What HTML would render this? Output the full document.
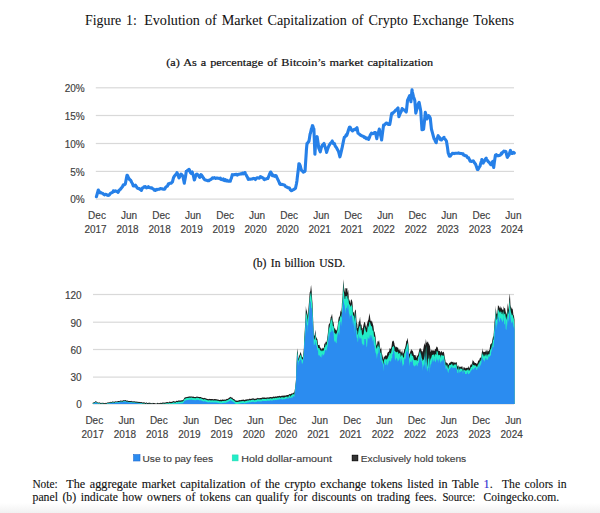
<!DOCTYPE html>
<html><head><meta charset="utf-8"><title>Figure 1</title>
<style>html,body{margin:0;padding:0;background:#fff;width:600px;height:513px;overflow:hidden}svg{display:block}</style>
</head><body>
<svg width="600" height="513" viewBox="0 0 600 513">
<defs><linearGradient id="bot" x1="0" y1="0" x2="0" y2="1"><stop offset="0" stop-color="#ffffff"/><stop offset="1" stop-color="#f1f1f1"/></linearGradient></defs>
<rect x="0" y="0" width="600" height="513" fill="#fff"/>
<rect x="0" y="503" width="600" height="10" fill="url(#bot)"/>
<text x="85" y="24.7" font-family="Liberation Serif" fill="#111" stroke="#111" stroke-width="0.05" word-spacing="1.5" font-size="14.0" textLength="51.9" lengthAdjust="spacingAndGlyphs">Figure 1:</text>
<text x="144.2" y="24.7" font-family="Liberation Serif" fill="#111" stroke="#111" stroke-width="0.05" word-spacing="1.5" font-size="14.0" textLength="369.7" lengthAdjust="spacingAndGlyphs">Evolution of Market Capitalization of Crypto Exchange Tokens</text>
<text x="166.3" y="65.8" font-family="Liberation Serif" fill="#111" stroke="#111" stroke-width="0.2" word-spacing="0.9" font-size="11.4" textLength="266.9" lengthAdjust="spacingAndGlyphs">(a) As a percentage of Bitcoin’s market capitalization</text>
<text x="253" y="267" font-family="Liberation Serif" fill="#111" stroke="#111" stroke-width="0.2" word-spacing="1.5" font-size="11.6" textLength="92.2" lengthAdjust="spacingAndGlyphs">(b) In billion USD.</text>
<rect x="95.8" y="87.20" width="418.2" height="1.2" fill="#D9D9D9"/>
<text x="84.7" y="92.1" font-family="Liberation Sans" fill="#404040" stroke="#404040" stroke-width="0.15" font-size="10" text-anchor="end">20%</text>
<rect x="95.8" y="114.90" width="418.2" height="1.2" fill="#D9D9D9"/>
<text x="84.7" y="119.8" font-family="Liberation Sans" fill="#404040" stroke="#404040" stroke-width="0.15" font-size="10" text-anchor="end">15%</text>
<rect x="95.8" y="142.90" width="418.2" height="1.2" fill="#D9D9D9"/>
<text x="84.7" y="147.8" font-family="Liberation Sans" fill="#404040" stroke="#404040" stroke-width="0.15" font-size="10" text-anchor="end">10%</text>
<rect x="95.8" y="170.80" width="418.2" height="1.2" fill="#D9D9D9"/>
<text x="84.7" y="175.7" font-family="Liberation Sans" fill="#404040" stroke="#404040" stroke-width="0.15" font-size="10" text-anchor="end">5%</text>
<rect x="95.8" y="198.50" width="418.2" height="1.2" fill="#D9D9D9"/>
<text x="84.7" y="203.4" font-family="Liberation Sans" fill="#404040" stroke="#404040" stroke-width="0.15" font-size="10" text-anchor="end">0%</text>
<text x="97.0" y="218.5" font-family="Liberation Sans" fill="#404040" stroke="#404040" stroke-width="0.15" font-size="10" text-anchor="middle">Dec</text>
<text x="95.5" y="232.5" font-family="Liberation Sans" fill="#404040" stroke="#404040" stroke-width="0.15" font-size="10" text-anchor="middle">2017</text>
<text x="129.0" y="218.5" font-family="Liberation Sans" fill="#404040" stroke="#404040" stroke-width="0.15" font-size="10" text-anchor="middle">Jun</text>
<text x="127.5" y="232.5" font-family="Liberation Sans" fill="#404040" stroke="#404040" stroke-width="0.15" font-size="10" text-anchor="middle">2018</text>
<text x="161.1" y="218.5" font-family="Liberation Sans" fill="#404040" stroke="#404040" stroke-width="0.15" font-size="10" text-anchor="middle">Dec</text>
<text x="159.6" y="232.5" font-family="Liberation Sans" fill="#404040" stroke="#404040" stroke-width="0.15" font-size="10" text-anchor="middle">2018</text>
<text x="193.1" y="218.5" font-family="Liberation Sans" fill="#404040" stroke="#404040" stroke-width="0.15" font-size="10" text-anchor="middle">Jun</text>
<text x="191.6" y="232.5" font-family="Liberation Sans" fill="#404040" stroke="#404040" stroke-width="0.15" font-size="10" text-anchor="middle">2019</text>
<text x="225.1" y="218.5" font-family="Liberation Sans" fill="#404040" stroke="#404040" stroke-width="0.15" font-size="10" text-anchor="middle">Dec</text>
<text x="223.6" y="232.5" font-family="Liberation Sans" fill="#404040" stroke="#404040" stroke-width="0.15" font-size="10" text-anchor="middle">2019</text>
<text x="257.1" y="218.5" font-family="Liberation Sans" fill="#404040" stroke="#404040" stroke-width="0.15" font-size="10" text-anchor="middle">Jun</text>
<text x="255.7" y="232.5" font-family="Liberation Sans" fill="#404040" stroke="#404040" stroke-width="0.15" font-size="10" text-anchor="middle">2020</text>
<text x="289.2" y="218.5" font-family="Liberation Sans" fill="#404040" stroke="#404040" stroke-width="0.15" font-size="10" text-anchor="middle">Dec</text>
<text x="287.7" y="232.5" font-family="Liberation Sans" fill="#404040" stroke="#404040" stroke-width="0.15" font-size="10" text-anchor="middle">2020</text>
<text x="321.2" y="218.5" font-family="Liberation Sans" fill="#404040" stroke="#404040" stroke-width="0.15" font-size="10" text-anchor="middle">Jun</text>
<text x="319.7" y="232.5" font-family="Liberation Sans" fill="#404040" stroke="#404040" stroke-width="0.15" font-size="10" text-anchor="middle">2021</text>
<text x="353.2" y="218.5" font-family="Liberation Sans" fill="#404040" stroke="#404040" stroke-width="0.15" font-size="10" text-anchor="middle">Dec</text>
<text x="351.7" y="232.5" font-family="Liberation Sans" fill="#404040" stroke="#404040" stroke-width="0.15" font-size="10" text-anchor="middle">2021</text>
<text x="385.3" y="218.5" font-family="Liberation Sans" fill="#404040" stroke="#404040" stroke-width="0.15" font-size="10" text-anchor="middle">Jun</text>
<text x="383.8" y="232.5" font-family="Liberation Sans" fill="#404040" stroke="#404040" stroke-width="0.15" font-size="10" text-anchor="middle">2022</text>
<text x="417.3" y="218.5" font-family="Liberation Sans" fill="#404040" stroke="#404040" stroke-width="0.15" font-size="10" text-anchor="middle">Dec</text>
<text x="415.8" y="232.5" font-family="Liberation Sans" fill="#404040" stroke="#404040" stroke-width="0.15" font-size="10" text-anchor="middle">2022</text>
<text x="449.3" y="218.5" font-family="Liberation Sans" fill="#404040" stroke="#404040" stroke-width="0.15" font-size="10" text-anchor="middle">Jun</text>
<text x="447.8" y="232.5" font-family="Liberation Sans" fill="#404040" stroke="#404040" stroke-width="0.15" font-size="10" text-anchor="middle">2023</text>
<text x="481.4" y="218.5" font-family="Liberation Sans" fill="#404040" stroke="#404040" stroke-width="0.15" font-size="10" text-anchor="middle">Dec</text>
<text x="479.9" y="232.5" font-family="Liberation Sans" fill="#404040" stroke="#404040" stroke-width="0.15" font-size="10" text-anchor="middle">2023</text>
<text x="513.4" y="218.5" font-family="Liberation Sans" fill="#404040" stroke="#404040" stroke-width="0.15" font-size="10" text-anchor="middle">Jun</text>
<text x="511.9" y="232.5" font-family="Liberation Sans" fill="#404040" stroke="#404040" stroke-width="0.15" font-size="10" text-anchor="middle">2024</text>
<polyline points="96.4,196.7 97.4,193.2 98.3,190 98.4,190.3 99.4,191.6 100,192.7 100.4,192.5 101.4,193 102.4,193.2 103.3,194 103.4,194.1 104.4,194.9 105.4,194.3 106.4,194.5 107.4,195.2 108.4,195.4 108.7,195.3 109.4,194.7 110.4,193.4 111.4,192.9 112.4,192.4 113.3,191.3 113.4,190.7 114.4,191.4 115.4,190.9 116.4,191.4 117.4,191.4 118,192.4 118.4,191.8 119.4,190 120.4,189.3 121.3,188 121.4,188 122.4,186.8 123.4,184.8 124.4,184.7 125.3,184 125.4,183.5 126.4,178.4 127,175.3 127.4,175.3 128.4,177.5 129.3,179.3 129.4,179 130.4,180 131.3,181.3 131.4,182 132.4,183.5 133.3,186 133.4,186 134.4,186 135.3,185.3 135.4,185.2 136.4,186.7 137.3,188 137.4,188.1 138.4,188.6 139.4,188.5 140.4,189.6 141.3,190 141.4,190.5 142.4,188 143.4,187.8 144,186.7 144.4,186.8 145.4,186.6 146.4,187.9 147.4,187.5 148.4,186.7 148.7,187.3 149.4,187.5 150.4,187.9 151.4,187.8 152,188 152.4,188.6 153.4,189 154.4,190.1 154.7,190 155.4,190.5 156.4,189.4 157.4,189.7 158.4,189.2 159.3,189.3 159.4,189.3 160.4,188.6 161.4,188.8 162.4,188.9 163.4,189.3 164.4,189.3 165,188.7 165.4,187.6 166.4,186.7 167.4,186.2 168.4,183.8 169,184 169.4,183.5 170.4,183.1 171.4,183.1 172.3,182 172.4,182 173.4,178.2 173.7,177.3 174.4,176.2 175.4,174.8 176.4,174.2 177,172.7 177.4,173.6 178.4,176.3 179,178 179.4,177.4 180.4,175.1 181,174 181.4,174.5 182.4,175.4 183,176.7 183.4,178.7 184.3,183.3 184.4,182.5 185.4,177.2 186.3,171.3 186.4,171.5 187.4,170.5 188.4,170 189,169.3 189.4,169.9 190.4,172.6 191,173.3 191.4,172.9 192.3,172 192.4,172.7 193.4,175.8 194.3,180 194.4,179.9 195.4,176.8 196.4,174.4 197,174 197.4,174.4 198.4,175.3 199.4,177 199.7,177.3 200.4,176.9 201,174.7 201.4,174.9 202.4,176.3 203.4,178 204.4,179.4 205,180 205.4,180 206.4,180.2 207.4,180.7 208.4,180.8 209,180.7 209.4,180 210.4,179.7 211.4,179.1 212.4,177.9 213,178 213.4,178.1 214.4,177.6 215.4,178.4 216.4,178.1 217,178 217.4,178.2 218.4,178.2 219.4,178.7 220.4,178.2 221,179.3 221.4,178.9 222.4,179.8 223.4,179 224.4,180.6 225,180.4 225.4,179.7 226.4,181 227.4,180.4 228.4,181.3 229.4,181.2 230.3,181.3 230.4,180.3 231.4,178.2 232.3,174.7 232.4,175.3 233.4,174.7 234.4,174.6 235.4,174.6 236.4,174.3 237,174.7 237.4,175.1 238.4,174.2 239.4,174.3 240.4,173.8 241.4,173.8 241.7,174 242.4,173.1 243.4,173.8 244.4,172.7 245,172.5 245.4,173.8 246.4,175.4 247.4,177.2 248.3,179.4 248.4,179.2 249.4,179.1 250.4,179.2 251.4,179 252.4,178.9 253.4,178.4 254.4,178.6 254.8,178.9 255.4,179.5 256.4,178.1 257.4,177.7 258.4,178 259.4,178.2 260.4,176.6 261.3,177 261.4,177 262.4,177.7 263.4,178.1 264,179.4 264.4,179.6 265.4,179.1 266.4,178.9 267.4,178.3 267.8,178.5 268.4,177.3 269.4,174.5 270.4,172.4 270.6,172 271.4,173.1 272.4,175.7 273.4,175.2 274.4,176.3 275.4,175.5 276.1,175.7 276.4,176.5 277.4,178.6 278.4,180.7 279.4,182.9 279.8,184 280.4,184.4 281.4,184.2 282.4,184.5 283.4,184.8 284.4,185 285.4,186.3 286.4,186.8 287.4,187.4 288.1,187.8 288.4,187.8 289.4,188.1 290.4,189.9 291.4,190.7 291.9,190.6 292.4,190.2 293.4,189.7 294.4,189.1 295.4,188.3 295.6,187.8 296.4,184 297,180.4 297.4,176.7 298.4,168.8 298.9,163.7 299.4,163.9 300.2,165.6 300.4,166.7 301.4,170.1 301.5,170.2 302.4,171.2 303.2,171.4 303.4,172.2 304.4,171.7 305.1,170.8 305.4,165.5 306.3,151.8 306.4,149.9 307,143.5 307.4,143.5 308.4,141.6 308.9,141.6 309.4,138.4 310.1,134 310.4,133.4 311.4,128.9 311.6,129 312.4,125.7 312.7,125.8 313.4,127.8 313.9,129 314.4,141.7 314.9,154.3 315.4,146.5 315.8,140.4 316.4,138.7 317.1,136.6 317.4,138.4 318.4,145.2 318.7,148 319.4,149.6 320.3,151.8 320.4,151 321.4,147.4 322.2,145.4 322.4,145.4 323.4,144.1 324,143.5 324.4,145.1 325.4,147.8 326.4,151.4 326.6,152.4 327.4,149.7 328.4,147 329.1,145.4 329.4,145.1 330.4,143.3 331.4,142.4 332.3,141 332.4,141.3 333.4,143.6 334.4,143.6 334.8,144.8 335.4,146.3 336.4,147.6 337.4,149.4 338,150.5 338.4,151.2 339.4,154.9 339.9,156.8 340.4,155.1 341.4,150.8 341.8,149.2 342.4,146.4 343.4,141.4 344.3,137.2 344.4,137.6 345.4,136.4 346.4,134.6 346.8,135.3 347.4,133.5 348.4,130.3 349.4,127.2 350,127.1 350.4,127.5 351.4,129.8 352.4,130.8 352.5,130.9 353.4,129.8 354.4,129.3 355.4,129.7 355.7,129 356.4,128.4 357,127.7 357.4,129.9 358,133.2 358.4,133.4 359.4,134.2 360.4,135.2 361.1,135.3 361.4,135.7 362.4,136.2 363.4,136.2 364.4,137.5 364.5,137.3 365.4,137.4 366.4,138.7 367.4,138.1 368.4,139.1 368.6,139.3 369.4,137.6 370.4,134.8 371.4,133.2 372.4,133.8 373.4,133.5 374.4,132.5 375.4,132.9 375.5,132.5 376.4,137 376.8,138.7 377.4,135.2 378.4,132.7 379.3,129.1 379.4,129.5 380.4,134.4 381.4,138.6 381.6,140 382.4,133.9 383.4,126.4 383.6,125 384.4,125 385.4,123.9 386.4,123 387.4,123.4 388.4,124.5 389.4,123.9 389.8,124.3 390.4,120.9 391.4,114.8 391.8,113.4 392.4,113.6 393.4,112.5 394.4,111.7 395.4,110.7 395.9,110 396.4,109.6 397.4,108.7 398,108 398.4,111.8 398.9,116.8 399.4,115.4 400.4,113 401.4,111.1 402.1,108.6 402.4,109.1 403.4,109.7 404.4,110.2 405.4,111.1 406.2,112 406.4,111 407.4,101.6 407.5,100.5 408.4,98.5 409.4,96 409.6,95.7 410.4,99 410.9,101.8 411.4,96.3 412,89.8 412.4,92.1 413.4,96.4 414.4,99.2 414.8,100.5 415.4,108 415.8,113.2 416.4,110.8 417.4,107 417.5,106.6 418.4,103.5 419.1,102.4 419.4,103.9 420.4,109.1 420.8,111.6 421.4,121.1 422,129.8 422.4,129.3 423.4,129.4 423.6,129 424.4,121.9 425.3,112.4 425.4,112.7 426.4,116.7 426.9,119 427.4,118.1 428.4,116.1 428.6,115.7 429.4,116.4 430.3,118.2 430.4,119.3 431.4,128.9 431.6,129.8 432.4,132.6 433.4,136.3 434.1,138.9 434.4,139 435.4,141.4 436.2,142.7 436.4,141.4 437.4,137.9 438.2,135.6 438.4,136.5 439.4,137.2 440.4,139.8 440.7,139.8 441.4,140 442.4,138.6 443.4,138 444,137.3 444.4,138.8 445.4,139.5 446.4,141 446.5,141.4 447.4,146.9 448.2,153 448.4,153.4 449.4,156.1 449.8,156.3 450.4,156.1 451.4,154.3 452.3,153.8 452.4,153.4 453.4,153.4 454.4,153.6 455.4,153.3 456.4,153.3 457.4,153.2 458.1,153 458.4,152.9 459.4,153.2 460.4,153.5 461.4,153.5 462.4,153.9 463.1,153.8 463.4,154.9 464.4,155.2 465.4,155.8 466.4,155.8 467.4,157.6 468.1,158 468.4,157.6 469.4,159.4 470,160.9 470.4,161.3 471.4,161.4 472.4,161.1 473.1,161.3 473.4,160.9 474.4,162.7 475.3,163.9 475.4,163.8 476.4,166.6 477.4,169.5 477.9,169.6 478.4,168.9 479.4,166.9 480.1,166.1 480.4,164.4 481.4,161.1 481.8,159.6 482.4,161 483.2,163.1 483.4,162.3 484.4,161.2 485.4,159 486.2,158.2 486.4,159 487.4,160.5 488.4,161.9 488.9,162.2 489.4,162.6 490.4,164.2 491.1,164.8 491.4,164.1 492.4,161.9 492.8,161.3 493.4,165.3 493.7,167.5 494.4,161.9 495.4,155.2 496.4,154.7 497.4,155.8 498.4,155.5 498.9,155.6 499.4,155.4 500.4,155.1 501.4,153.2 501.6,153.9 502.4,152.6 503.4,151.8 503.8,151.2 504.4,151.5 505.4,151.4 506,151.7 506.4,153.9 507.3,157.4 507.4,157.4 508.4,155.4 509,155.2 509.4,153.4 510.4,150.4 511.4,153.1 511.7,153.4 512.4,153.5 513.4,152.3 514.3,153" fill="none" stroke="#2680E8" stroke-width="3.1" stroke-linejoin="round" stroke-linecap="round"/>
<rect x="93" y="293.90" width="421" height="1.2" fill="#D9D9D9"/>
<text x="81.7" y="298.8" font-family="Liberation Sans" fill="#404040" stroke="#404040" stroke-width="0.15" font-size="10" text-anchor="end">120</text>
<rect x="93" y="321.60" width="421" height="1.2" fill="#D9D9D9"/>
<text x="81.7" y="326.5" font-family="Liberation Sans" fill="#404040" stroke="#404040" stroke-width="0.15" font-size="10" text-anchor="end">90</text>
<rect x="93" y="348.90" width="421" height="1.2" fill="#D9D9D9"/>
<text x="81.7" y="353.8" font-family="Liberation Sans" fill="#404040" stroke="#404040" stroke-width="0.15" font-size="10" text-anchor="end">60</text>
<rect x="93" y="376.50" width="421" height="1.2" fill="#D9D9D9"/>
<text x="81.7" y="381.4" font-family="Liberation Sans" fill="#404040" stroke="#404040" stroke-width="0.15" font-size="10" text-anchor="end">30</text>
<rect x="93" y="403.40" width="421" height="1.2" fill="#D9D9D9"/>
<text x="81.7" y="408.3" font-family="Liberation Sans" fill="#404040" stroke="#404040" stroke-width="0.15" font-size="10" text-anchor="end">0</text>
<text x="94.3" y="423.6" font-family="Liberation Sans" fill="#404040" stroke="#404040" stroke-width="0.15" font-size="10" text-anchor="middle">Dec</text>
<text x="92.7" y="437.5" font-family="Liberation Sans" fill="#404040" stroke="#404040" stroke-width="0.15" font-size="10" text-anchor="middle">2017</text>
<text x="126.5" y="423.6" font-family="Liberation Sans" fill="#404040" stroke="#404040" stroke-width="0.15" font-size="10" text-anchor="middle">Jun</text>
<text x="124.9" y="437.5" font-family="Liberation Sans" fill="#404040" stroke="#404040" stroke-width="0.15" font-size="10" text-anchor="middle">2018</text>
<text x="158.8" y="423.6" font-family="Liberation Sans" fill="#404040" stroke="#404040" stroke-width="0.15" font-size="10" text-anchor="middle">Dec</text>
<text x="157.2" y="437.5" font-family="Liberation Sans" fill="#404040" stroke="#404040" stroke-width="0.15" font-size="10" text-anchor="middle">2018</text>
<text x="191.0" y="423.6" font-family="Liberation Sans" fill="#404040" stroke="#404040" stroke-width="0.15" font-size="10" text-anchor="middle">Jun</text>
<text x="189.4" y="437.5" font-family="Liberation Sans" fill="#404040" stroke="#404040" stroke-width="0.15" font-size="10" text-anchor="middle">2019</text>
<text x="223.2" y="423.6" font-family="Liberation Sans" fill="#404040" stroke="#404040" stroke-width="0.15" font-size="10" text-anchor="middle">Dec</text>
<text x="221.6" y="437.5" font-family="Liberation Sans" fill="#404040" stroke="#404040" stroke-width="0.15" font-size="10" text-anchor="middle">2019</text>
<text x="255.4" y="423.6" font-family="Liberation Sans" fill="#404040" stroke="#404040" stroke-width="0.15" font-size="10" text-anchor="middle">Jun</text>
<text x="253.8" y="437.5" font-family="Liberation Sans" fill="#404040" stroke="#404040" stroke-width="0.15" font-size="10" text-anchor="middle">2020</text>
<text x="287.7" y="423.6" font-family="Liberation Sans" fill="#404040" stroke="#404040" stroke-width="0.15" font-size="10" text-anchor="middle">Dec</text>
<text x="286.1" y="437.5" font-family="Liberation Sans" fill="#404040" stroke="#404040" stroke-width="0.15" font-size="10" text-anchor="middle">2020</text>
<text x="319.9" y="423.6" font-family="Liberation Sans" fill="#404040" stroke="#404040" stroke-width="0.15" font-size="10" text-anchor="middle">Jun</text>
<text x="318.3" y="437.5" font-family="Liberation Sans" fill="#404040" stroke="#404040" stroke-width="0.15" font-size="10" text-anchor="middle">2021</text>
<text x="352.1" y="423.6" font-family="Liberation Sans" fill="#404040" stroke="#404040" stroke-width="0.15" font-size="10" text-anchor="middle">Dec</text>
<text x="350.5" y="437.5" font-family="Liberation Sans" fill="#404040" stroke="#404040" stroke-width="0.15" font-size="10" text-anchor="middle">2021</text>
<text x="384.4" y="423.6" font-family="Liberation Sans" fill="#404040" stroke="#404040" stroke-width="0.15" font-size="10" text-anchor="middle">Jun</text>
<text x="382.8" y="437.5" font-family="Liberation Sans" fill="#404040" stroke="#404040" stroke-width="0.15" font-size="10" text-anchor="middle">2022</text>
<text x="416.6" y="423.6" font-family="Liberation Sans" fill="#404040" stroke="#404040" stroke-width="0.15" font-size="10" text-anchor="middle">Dec</text>
<text x="415.0" y="437.5" font-family="Liberation Sans" fill="#404040" stroke="#404040" stroke-width="0.15" font-size="10" text-anchor="middle">2022</text>
<text x="448.8" y="423.6" font-family="Liberation Sans" fill="#404040" stroke="#404040" stroke-width="0.15" font-size="10" text-anchor="middle">Jun</text>
<text x="447.2" y="437.5" font-family="Liberation Sans" fill="#404040" stroke="#404040" stroke-width="0.15" font-size="10" text-anchor="middle">2023</text>
<text x="481.1" y="423.6" font-family="Liberation Sans" fill="#404040" stroke="#404040" stroke-width="0.15" font-size="10" text-anchor="middle">Dec</text>
<text x="479.5" y="437.5" font-family="Liberation Sans" fill="#404040" stroke="#404040" stroke-width="0.15" font-size="10" text-anchor="middle">2023</text>
<text x="513.3" y="423.6" font-family="Liberation Sans" fill="#404040" stroke="#404040" stroke-width="0.15" font-size="10" text-anchor="middle">Jun</text>
<text x="511.7" y="437.5" font-family="Liberation Sans" fill="#404040" stroke="#404040" stroke-width="0.15" font-size="10" text-anchor="middle">2024</text>
<polygon points="92.7,404 92.7,402.8 93.4,402.4 94.1,402.3 94.8,401.9 95.5,401.2 95.5,401.1 96.2,401.5 96.9,401.8 97.6,402.4 98,402.5 98.3,402.5 99,402.8 99.7,402.2 100.4,403.1 101.1,402.7 101.8,402.9 102.5,402.8 103.2,402.8 103.9,403 104.6,403.2 105,403 105.3,402.9 106,402.8 106.7,402.9 107.4,402.4 108.1,402.2 108.8,402.5 109.5,402.2 110.2,401.7 110.9,401.9 111.6,401.9 112.3,401.6 113,401.4 113.7,401.7 114.4,401.8 115,401.5 115.1,401.4 115.8,401.2 116.5,401.4 117.2,401.4 117.9,401 118.6,401.1 119.3,401.2 120,400.8 120.7,400.5 121.4,400.7 122.1,400.6 122.8,400.7 123.5,400 123.8,400.3 124.2,400.2 124.9,400.2 125.6,400.1 126.3,400.6 127,400.8 127.7,400.5 128.4,401.1 129.1,401.1 129.8,401.1 130.5,401.1 131.2,401.3 131.9,400.8 132.6,401.4 133.3,401.5 134,401 134.7,401.6 135,401.5 135.4,401.5 136.1,401.8 136.8,401.6 137.5,401.7 138.2,401.9 138.9,401.7 139.6,402.1 140.3,402 141,402.2 141.7,402 142.4,402.5 143.1,402.5 143.8,402.3 144.5,402.6 145,402.5 145.2,402.8 145.9,403 146.6,402.2 147.3,402.9 148,402.9 148.7,402.8 149.4,402.6 150.1,403.2 150.8,402.7 151.5,403.2 152.2,403.4 152.9,402.8 153.6,403.1 154.3,402.9 154.7,403.3 155,403.3 155.7,403.6 156.4,403.7 157.1,402.7 157.8,402.9 158.5,403.2 159.2,403.3 159.9,403 160.6,402.7 161.3,402.9 162,402.7 162.7,402.6 163.4,402.4 164.1,402.7 164.8,402.6 165,402.5 165.5,402.4 166.2,402.3 166.9,401.9 167.6,402 168.3,402.4 169,401.9 169.7,401.5 170.4,402.1 171.1,401.8 171.8,402.1 172.5,401.5 173.2,401.3 173.9,401 174.6,401.6 175.3,401.8 176,400.9 176.7,400.8 177.4,401 178,400.8 178.1,400.6 178.8,400.6 179.5,400.5 180.2,400.5 180.9,400.6 181.6,400.2 182.3,400.3 183,400 183,399.9 183.7,399.2 184.4,397.7 185,397.5 185.1,397.1 185.8,397.4 186.5,396.9 187.2,396.9 187.9,396.7 188.6,396.7 189,396.2 189.3,396.5 190,396.6 190.7,396.4 191.4,396.4 192.1,396.5 192.8,396.7 193.5,396.6 194,397 194.2,396.9 194.9,396.9 195.6,397 196.3,396.8 197,396.4 197.7,396.8 198.4,396.9 199,396.8 199.1,397.1 199.8,397.1 200.5,396.9 201.2,397.1 201.9,397.9 202.6,397.7 203.3,398.1 204,398.3 204.7,397.7 205,398 205.4,398.2 206.1,398.4 206.8,398.7 207.5,398.9 208.2,399 208.9,399.2 209,399.2 209.6,398.8 210.3,399.1 211,398.9 211.7,399.1 212.4,399 213.1,399.2 213.8,399.2 214.5,399.1 215,399 215.2,399.1 215.9,399.2 216.6,399.2 217.3,399.4 218,399.5 218.7,399.8 219.4,399.9 220,400 220.1,400.1 220.8,399.6 221.5,400.1 222.2,399.6 222.9,399.6 223.6,399.7 224.3,399.5 225,399.7 225.7,399.4 226,399.5 226.4,399 227.1,398.7 227.8,398.9 228.5,398.3 229.2,397.6 229.9,397.6 230.6,396.8 231,397 231.3,397.7 232,397.3 232.7,398.3 233.4,398.9 234.1,398.9 234.8,399.8 235.5,400.5 236,400.6 236.2,400.7 236.9,400.6 237.6,400.7 238.3,400.4 239,400.3 239.7,400.1 240.4,400.3 241.1,399.8 241.8,400.1 242.5,399.7 243.2,399.5 243.9,399.8 244.6,400 245.3,399.8 246,399.3 246.7,399.6 247.4,399.2 248.1,399.2 248.8,399.2 249.5,398.5 250,399 250.2,399 250.9,398.7 251.6,398.7 252.3,398.4 253,398.3 253.7,398.4 254.4,398.8 255.1,398.9 255.8,398.4 256.5,398.6 257.2,398.2 257.9,397.7 258.6,398.2 259.3,398.2 260,397.9 260.7,398 261.4,398 262.1,397.6 262.8,397.4 263.5,397.6 264.2,397.5 264.9,397.4 265.6,397.7 266.3,397.8 267,397.2 267.7,397.4 268.4,397.4 269.1,397.3 269.8,397.3 270,397 270.5,396.9 271.2,397.1 271.9,397.3 272.6,396.9 273.3,396.5 274,396.8 274.7,396.8 275.4,396.6 276.1,396.2 276.8,396.7 277.5,395.9 278.2,396.3 278.9,396.1 279.6,395.7 280,396 280.3,396.3 281,396 281.7,395.7 282.4,395.8 283.1,395.6 283.8,395.7 284.5,395.4 285.2,395.4 285.9,395.5 286.6,394.9 286.8,395.3 287.3,395 288,395 288.7,394.7 289.4,394 290.1,394.2 290.8,394 290.9,393.9 291.5,393.6 292.2,393.2 292.9,393.4 293.6,392.5 294.3,392.5 294.3,392.8 295,388.4 295.3,386.4 295.7,382.4 296.1,378.2 296.4,367.2 297,352.3 297.1,352.3 297.7,348.2 297.8,351.9 298.4,358.6 298.5,358.9 299.2,355.8 299.9,354.2 300.5,351.6 300.6,352.2 301.3,354.1 302,357.3 302.7,357.2 302.8,357 303.4,352.9 303.9,348 304.1,340.2 304.8,329.9 305.5,317.9 305.9,306 306.2,308.9 306.9,311.2 307.6,315 307.6,318.2 308.3,310.3 309,302 309.7,292.6 310.4,291 310.8,287 311.1,285 311.8,292.3 312.2,300 312.5,303.2 313.2,320.8 313.9,338 313.9,335.2 314.6,335.8 315.3,330 315.3,329.3 316,336.6 316.7,338.2 317.4,339.2 318.1,344.7 318.2,345 318.8,344.9 319.5,344.8 320.2,348.4 320.9,347 321.5,350 321.6,349.3 322.3,347.5 323,349.3 323.1,347.7 323.7,348.4 324.4,343.6 325.1,343.8 325.8,341.5 326.4,342 326.5,342.5 327.2,338.5 327.9,333 328.6,325.2 329.3,323 329.3,324.2 330,322.4 330.7,317.2 331.4,316.3 331.8,314.5 332.1,314.1 332.8,320.9 333.5,322.2 334.2,327 334.2,329.1 334.9,327.8 335.6,330 336.3,329.4 336.6,331 337,330 337.7,325.8 338.4,319.5 339.1,316.3 339.4,317 339.8,316 340.5,310.2 341.2,312.6 341.8,307 341.9,303.6 342.6,295.7 343.3,279.2 343.5,281.5 344,287.3 344.7,291.2 345.2,292.7 345.4,288.3 346.1,288 346.8,288.7 347.3,288 347.5,293.1 348.2,289.8 348.9,299.3 349.3,301.6 349.6,298.7 350.3,303.8 351,299.4 351.4,299.6 351.7,299.8 352.4,302 353.1,312 353.8,312.8 354.1,310.5 354.5,316 355.2,309.4 355.5,309.8 355.9,310.5 356.6,322.3 357.3,324.2 357.5,328.2 358,328 358.7,322.2 359.4,320.9 360.1,316.4 360.2,318.7 360.8,324.8 361.5,324.6 362.2,330.7 362.3,328.2 362.9,328 363.6,324.4 364.3,322.1 364.3,322.1 365,322.3 365.7,325.9 366.4,328.2 366.4,326.8 367.1,323.7 367.8,321.1 368.5,319.5 369.1,315.2 369.2,313.1 369.9,316 370.6,321.1 371.3,320.5 371.8,322.1 372,320.9 372.7,323.6 373.4,326.1 374.1,331.5 374.7,331.7 374.8,332.8 375.5,336.5 376.2,343.4 376.4,344.6 376.9,345.7 377.6,341.1 378.3,341.8 378.8,341.1 379,339.8 379.7,344.3 380.4,349.6 381.1,348.1 381.1,346.5 381.8,353.2 382.5,355.4 382.9,357.5 383.2,359.8 383.9,356.7 384.6,356.7 385.3,355 386,356.2 386.4,355.1 386.7,356.1 387.4,352.9 388.1,352.1 388.8,351.8 389.3,350.4 389.5,348.2 390.2,348.4 390.9,349.1 391.6,346 392.2,341.1 392.3,341.8 393,340.6 393.7,341.1 394.4,343.4 394.6,345.2 395.1,346 395.8,347.5 396.5,346.6 397.2,348 397.5,347.5 397.9,347 398.6,349.5 399.3,350.7 400,348.4 400.4,350.4 400.7,352.3 401.4,352.5 402.1,350.1 402.8,353.7 403.5,353 404,351 404.2,349.6 404.9,348.4 405.6,345.7 406.3,341 407,340.6 407.5,338.1 407.7,338.2 408.4,344.4 409.1,352.8 409.2,354 409.8,353.6 410.5,350.9 411.2,349.7 411.6,348.7 411.9,351 412.6,350.4 413.3,352.5 414,355.6 414.5,355.1 414.7,355.1 415.4,355.1 416.1,357.5 416.8,357.5 416.8,355.3 417.5,356 418.2,354.5 418.9,351.5 419.6,348.3 420.3,349.4 420.4,348.1 421,348.5 421.7,351.2 422.4,351.1 422.7,352.8 423.1,350.3 423.8,346.3 424.5,343 424.5,343.1 425.2,345.8 425.9,338.8 426.2,341.2 426.6,343 427.3,342.3 428,341.3 428.5,344 428.7,343.1 429.4,346 429.6,343.5 430.1,347.4 430.6,352 430.8,351.7 431.5,350.1 432,349.5 432.2,350.2 432.9,350.7 433.6,350.3 434.3,350.9 434.4,351 435,349.3 435.7,349 436.4,347.1 436.5,346.5 437.1,346.7 437.8,347.7 438,349 438.5,351 439.2,350.7 439.9,351.3 440.5,352 440.6,352.9 441.3,350.8 442,351.8 442.7,352.7 443.4,351.6 444,352.5 444.1,353.1 444.8,357.2 445.5,361 445.5,362.5 446.2,362.3 446.9,363.1 447,363 447.6,363.2 448.3,365.2 449,363.4 449.7,362.8 450.4,362.4 451.1,361.5 451.8,362.1 452,361.5 452.5,362.2 453.2,361.8 453.9,362.9 454.6,362.2 455.3,363 456,362 456.5,362.5 456.7,362.1 457.4,366.5 458,366 458.1,367.4 458.8,365.1 459.5,367.2 460.2,366.4 460.9,367.3 461,367 461.6,366.5 462.3,366.2 463,369.6 463.7,367 464.4,367.4 465,367.8 465.1,367.8 465.8,368.4 466.5,367.7 467.2,368 467.9,367.5 468,368.5 468.6,365.8 469.3,368.6 470,366.6 470.7,364.3 471,365 471.4,364.4 472.1,363.3 472.8,359.5 473,360.5 473.5,360.9 474.2,362 474.9,363 475.6,363 476.3,363 476.5,364 477,364.1 477.7,362.6 478.4,360.1 479,361 479.1,360.5 479.8,358.3 480.5,357.8 481,357 481.2,358 481.9,351.9 482.5,350.5 482.6,348.1 483.3,352.2 484,351.8 484.7,351.9 485.4,351.7 486.1,349.8 486.8,351.5 487,353 487.5,350.1 488.2,351.4 488.9,350.5 489.5,350 489.6,349.1 490.3,344.5 491,344 491,342.8 491.7,343.9 492.4,339.6 493.1,336.6 493.5,336.5 493.8,332.8 494.5,322 495,317.7 495.2,317 495.8,305.5 495.9,308.5 496.6,314.4 497,313 497.3,314.1 498,304.6 498.1,306.6 498.7,305.2 499.4,307.2 499.9,308.4 500.1,305.8 500.8,308.5 501.5,307.1 501.6,307.8 502.2,310.3 502.9,308.8 503.4,310.7 503.6,306 504.3,308.6 505,307.7 505.1,308.4 505.7,311.8 506.4,314.7 506.9,312.5 507.1,311.4 507.8,303 508.5,310.2 508.7,307.8 509.2,299 509.8,293.8 509.9,294.1 510.6,307.2 510.6,305 511.3,309.1 512,306.8 512.2,309.6 512.7,308.5 513.4,315 513.9,315.4 514.1,319.5 514.5,316 514.5,404" fill="#1C1C1C"/>
<polygon points="92.7,404 92.7,403.6 93.4,403.2 94.1,403.1 94.8,402.7 95.5,402 95.5,401.9 96.2,402.3 96.9,402.6 97.6,403.3 98,403.3 98.3,403.3 99,403.6 99.7,403 100.4,403.9 101.1,403.5 101.8,403.8 102.5,403.6 103.2,403.6 103.9,403.9 104.6,404 105,403.9 105.3,403.8 106,403.7 106.7,403.8 107.4,403.3 108.1,403 108.8,403.4 109.5,403 110.2,402.6 110.9,402.8 111.6,402.8 112.3,402.5 113,402.3 113.7,402.6 114.4,402.7 115,402.4 115.1,402.3 115.8,402.1 116.5,402.3 117.2,402.3 117.9,401.9 118.6,402.1 119.3,402.1 120,401.7 120.7,401.4 121.4,401.6 122.1,401.5 122.8,401.7 123.5,401 123.8,401.2 124.2,401.1 124.9,401.2 125.6,401 126.3,401.6 127,401.7 127.7,401.5 128.4,402.1 129.1,402 129.8,402.1 130.5,402.1 131.2,402.3 131.9,401.8 132.6,402.4 133.3,402.5 134,401.9 134.7,402.5 135,402.5 135.4,402.5 136.1,402.8 136.8,402.6 137.5,402.8 138.2,402.9 138.9,402.7 139.6,403.1 140.3,403 141,403.2 141.7,403.1 142.4,403.5 143.1,403.5 143.8,403.4 144.5,403.6 145,403.5 145.2,403.9 145.9,404 146.6,403.3 147.3,404 148,403.9 148.7,403.8 149.4,403.7 150.1,404 150.8,403.7 151.5,404 152.2,404 152.9,403.8 153.6,404 154.3,404 154.7,404 155,404 155.7,404 156.4,404 157.1,403.8 157.8,404 158.5,404 159.2,404 159.9,404 160.6,403.8 161.3,404 162,403.8 162.7,403.7 163.4,403.6 164.1,403.8 164.8,403.7 165,403.6 165.5,403.5 166.2,403.4 166.9,403.1 167.6,403.2 168.3,403.5 169,403.1 169.7,402.7 170.4,403.3 171.1,403 171.8,403.3 172.5,402.7 173.2,402.5 173.9,402.1 174.6,402.8 175.3,403 176,402 176.7,402 177.4,402.2 178,402 178.1,401.8 178.8,401.8 179.5,401.7 180.2,401.7 180.9,401.8 181.6,401.4 182.3,401.5 183,401.2 183,401.1 183.7,400.4 184.4,398.9 185,398.7 185.1,398.3 185.8,398.7 186.5,398.1 187.2,398.1 187.9,397.9 188.6,397.9 189,397.4 189.3,397.7 190,397.8 190.7,397.7 191.4,397.6 192.1,397.7 192.8,397.9 193.5,397.9 194,398.2 194.2,398.1 194.9,398.2 195.6,398.2 196.3,398.1 197,397.6 197.7,398.1 198.4,398.1 199,398.1 199.1,398.3 199.8,398.4 200.5,398.2 201.2,398.3 201.9,399.1 202.6,399 203.3,399.4 204,399.6 204.7,399 205,399.3 205.4,399.5 206.1,399.7 206.8,400 207.5,400.2 208.2,400.3 208.9,400.5 209,400.5 209.6,400.1 210.3,400.4 211,400.2 211.7,400.4 212.4,400.3 213.1,400.5 213.8,400.5 214.5,400.4 215,400.3 215.2,400.4 215.9,400.5 216.6,400.5 217.3,400.7 218,400.8 218.7,401.1 219.4,401.2 220,401.3 220.1,401.4 220.8,400.9 221.5,401.4 222.2,400.9 222.9,400.9 223.6,401 224.3,400.8 225,401 225.7,400.7 226,400.8 226.4,400.4 227.1,400.1 227.8,400.3 228.5,399.6 229.2,398.9 229.9,398.9 230.6,398.1 231,398.3 231.3,399 232,398.7 232.7,399.7 233.4,400.2 234.1,400.2 234.8,401.2 235.5,401.8 236,402 236.2,402 236.9,401.9 237.6,402 238.3,401.7 239,401.7 239.7,401.5 240.4,401.6 241.1,401.1 241.8,401.5 242.5,401.1 243.2,400.9 243.9,401.2 244.6,401.4 245.3,401.2 246,400.7 246.7,400.9 247.4,400.6 248.1,400.6 248.8,400.5 249.5,399.9 250,400.4 250.2,400.4 250.9,400 251.6,400.1 252.3,399.8 253,399.7 253.7,399.8 254.4,400.2 255.1,400.3 255.8,399.8 256.5,400 257.2,399.6 257.9,399.1 258.6,399.6 259.3,399.6 260,399.3 260.7,399.4 261.4,399.4 262.1,399 262.8,398.8 263.5,399 264.2,399 264.9,398.9 265.6,399.1 266.3,399.2 267,398.6 267.7,398.8 268.4,398.8 269.1,398.7 269.8,398.7 270,398.4 270.5,398.3 271.2,398.5 271.9,398.8 272.6,398.4 273.3,398 274,398.2 274.7,398.3 275.4,398 276.1,397.7 276.8,398.2 277.5,397.4 278.2,397.8 278.9,397.6 279.6,397.2 280,397.5 280.3,397.9 281,397.4 281.7,397.2 282.4,397.3 283.1,397.5 283.8,397.4 284.5,397.4 285.2,397 285.9,396.7 286.6,396.9 286.8,396.2 287.3,396.6 288,397.8 288.7,396.1 289.4,395 290.1,396.3 290.8,396.6 290.9,395.1 291.5,395.5 292.2,394.7 292.9,394 293.6,394.3 294.3,394.7 294.3,394.3 295,390.3 295.3,387.8 295.7,383.9 296.1,379.5 296.4,369.5 297,354.7 297.1,355.1 297.7,350.8 297.8,355.7 298.4,360.2 298.5,361.2 299.2,358.3 299.9,356.4 300.5,354.5 300.6,354.8 301.3,356.2 302,359.5 302.7,359.2 302.8,359.4 303.4,354.6 303.9,350.7 304.1,343.7 304.8,333.1 305.5,322.5 305.9,311.2 306.2,313.3 306.9,315.4 307.6,319.3 307.6,323.4 308.3,314.7 309,308.1 309.7,297.9 310.4,294.8 310.8,292.8 311.1,291.8 311.8,300 312.2,304.3 312.5,309.5 313.2,324.5 313.9,340.9 313.9,338.1 314.6,340.1 315.3,332.8 315.3,332.6 316,340 316.7,339.8 317.4,344 318.1,347.3 318.2,348.2 318.8,348.1 319.5,348.2 320.2,350.9 320.9,349.7 321.5,351.7 321.6,350.5 322.3,350.3 323,351.4 323.1,349.9 323.7,351.1 324.4,347.2 325.1,346.7 325.8,343.8 326.4,345 326.5,345.8 327.2,341.3 327.9,336.2 328.6,330 329.3,326.5 329.3,329 330,324.6 330.7,320.3 331.4,320.2 331.8,317.6 332.1,318.7 332.8,325.7 333.5,326.1 334.2,330.1 334.2,333.5 334.9,332.2 335.6,334.5 336.3,332.8 336.6,334.8 337,332.1 337.7,328.6 338.4,322.6 339.1,320.7 339.4,320.9 339.8,319 340.5,315.5 341.2,317.6 341.8,312.5 341.9,309.5 342.6,298.7 343.3,281.2 343.5,290.8 344,293 344.7,298.9 345.2,298.9 345.4,296.2 346.1,296.1 346.8,296.4 347.3,294.1 347.5,299.7 348.2,297 348.9,303 349.3,305 349.6,303.7 350.3,307 351,305.3 351.4,304.2 351.7,305.7 352.4,307.2 353.1,316.4 353.8,315.3 354.1,314.4 354.5,321.9 355.2,311.7 355.5,317.4 355.9,318.5 356.6,330 357.3,331.2 357.5,334.9 358,333.8 358.7,328.7 359.4,326.6 360.1,325.8 360.2,323.3 360.8,330.5 361.5,329.5 362.2,336.8 362.3,334.4 362.9,335 363.6,334 364.3,328 364.3,326.6 365,327.7 365.7,330.7 366.4,333 366.4,331.8 367.1,332 367.8,325.2 368.5,327.4 369.1,323.9 369.2,322.4 369.9,322.1 370.6,324.6 371.3,326.5 371.8,326 372,326.5 372.7,330.8 373.4,330.6 374.1,337.1 374.7,336.7 374.8,335.7 375.5,340.8 376.2,348 376.4,347.3 376.9,349.1 377.6,345 378.3,347.3 378.8,344.6 379,343.4 379.7,348.1 380.4,352.8 381.1,353.6 381.1,349.2 381.8,356.8 382.5,360.2 382.9,360.7 383.2,364.7 383.9,360.8 384.6,359.1 385.3,358.4 386,360.1 386.4,359.4 386.7,358.9 387.4,358.8 388.1,356.9 388.8,355.3 389.3,354.7 389.5,352.6 390.2,353.2 390.9,353.5 391.6,350.5 392.2,347.2 392.3,346.9 393,346.8 393.7,345.7 394.4,348 394.6,350.9 395.1,351.1 395.8,352.1 396.5,352.3 397.2,352.2 397.5,351.6 397.9,351.7 398.6,354.1 399.3,353.2 400,352.9 400.4,353.5 400.7,356.9 401.4,355.5 402.1,354 402.8,356.3 403.5,357.8 404,357.6 404.2,354 404.9,352.6 405.6,349 406.3,347 407,344.5 407.5,342.4 407.7,343.4 408.4,346.6 409.1,356.2 409.2,358.7 409.8,356.7 410.5,353.6 411.2,353.5 411.6,353.8 411.9,355.9 412.6,355.6 413.3,356.9 414,360.3 414.5,359.8 414.7,360.3 415.4,360.2 416.1,359.7 416.8,360.3 416.8,361.2 417.5,360.8 418.2,357.1 418.9,356.1 419.6,350.7 420.3,354.7 420.4,350.6 421,354 421.7,357.9 422.4,359.5 422.7,361.2 423.1,360 423.8,359.4 424.5,356 424.5,350.3 425.2,363.5 425.9,349.3 426.2,345.8 426.6,358.8 427.3,366.9 428,358 428.5,359.3 428.7,354.1 429.4,367.5 429.6,354.3 430.1,361 430.6,357.5 430.8,359.2 431.5,356.8 432,355.1 432.2,355.1 432.9,354.8 433.6,354.5 434.3,354.7 434.4,357.2 435,354.3 435.7,354.2 436.4,355 436.5,351.3 437.1,351.6 437.8,351.4 438,354 438.5,355.5 439.2,354.8 439.9,355.3 440.5,355.7 440.6,357.9 441.3,354.6 442,355.6 442.7,355.6 443.4,355.6 444,356 444.1,355.9 444.8,360.9 445.5,363.9 445.5,365.7 446.2,364.4 446.9,366.7 447,363.6 447.6,367 448.3,368.9 449,365.2 449.7,365.3 450.4,365 451.1,364.6 451.8,363.7 452,363.2 452.5,365.1 453.2,365.9 453.9,364.6 454.6,364.5 455.3,365 456,363.5 456.5,364.8 456.7,366.3 457.4,369.5 458,369.2 458.1,371 458.8,366 459.5,370 460.2,368.6 460.9,368.8 461,368.6 461.6,368.9 462.3,368.7 463,371.8 463.7,368.9 464.4,370.2 465,370.3 465.1,370.5 465.8,370.4 466.5,370.5 467.2,369.7 467.9,369.5 468,371.5 468.6,368.9 469.3,370.8 470,369.8 470.7,367.6 471,366.8 471.4,367.1 472.1,366.6 472.8,363.1 473,365 473.5,365 474.2,365.5 474.9,365.3 475.6,365.5 476.3,366.1 476.5,366.5 477,367.5 477.7,365.2 478.4,363.1 479,365.6 479.1,363.3 479.8,361.4 480.5,361 481,359.1 481.2,360.8 481.9,353.2 482.5,355.3 482.6,352.2 483.3,356.7 484,353.8 484.7,356.6 485.4,355.2 486.1,353.5 486.8,355.8 487,357 487.5,354.6 488.2,354.7 488.9,353.8 489.5,354.5 489.6,352.7 490.3,349.8 491,348.7 491,343.6 491.7,348.8 492.4,343.8 493.1,339.8 493.5,339.7 493.8,335 494.5,326.9 495,321.4 495.2,321.4 495.8,309.1 495.9,312.9 496.6,320.3 497,319 497.3,319 498,307.6 498.1,311.4 498.7,309.4 499.4,311.9 499.9,312.8 500.1,311.1 500.8,312.7 501.5,311.4 501.6,313.7 502.2,314.4 502.9,311.8 503.4,315.9 503.6,310.3 504.3,314.1 505,314.2 505.1,312.7 505.7,317.1 506.4,320 506.9,315.9 507.1,318 507.8,309.8 508.5,314.3 508.7,313.4 509.2,306.1 509.8,299.3 509.9,302.2 510.6,312.5 510.6,308.6 511.3,315.5 512,312.3 512.2,315.5 512.7,314.7 513.4,317.8 513.9,319 514.1,325 514.5,319.4 514.5,404" fill="#22EDC8"/>
<polygon points="92.7,404 92.7,404 93.4,403.7 94.1,403.6 94.8,403.2 95.5,402.5 95.5,402.4 96.2,402.8 96.9,403.1 97.6,403.8 98,403.8 98.3,403.8 99,404 99.7,403.5 100.4,404 101.1,404 101.8,404 102.5,404 103.2,404 103.9,404 104.6,404 105,404 105.3,404 106,404 106.7,404 107.4,403.8 108.1,403.5 108.8,403.9 109.5,403.5 110.2,403.1 110.9,403.3 111.6,403.3 112.3,403 113,402.8 113.7,403.1 114.4,403.2 115,402.9 115.1,402.8 115.8,402.6 116.5,402.8 117.2,402.8 117.9,402.4 118.6,402.6 119.3,402.6 120,402.2 120.7,401.9 121.4,402.1 122.1,402 122.8,402.2 123.5,401.5 123.8,401.7 124.2,401.6 124.9,401.7 125.6,401.5 126.3,402.1 127,402.2 127.7,402 128.4,402.6 129.1,402.5 129.8,402.6 130.5,402.6 131.2,402.8 131.9,402.3 132.6,402.9 133.3,403 134,402.4 134.7,403 135,403 135.4,403 136.1,403.3 136.8,403.1 137.5,403.3 138.2,403.4 138.9,403.2 139.6,403.6 140.3,403.5 141,403.7 141.7,403.6 142.4,404 143.1,404 143.8,403.9 144.5,404 145,404 145.2,404 145.9,404 146.6,403.8 147.3,404 148,404 148.7,404 149.4,404 150.1,404 150.8,404 151.5,404 152.2,404 152.9,404 153.6,404 154.3,404 154.7,404 155,404 155.7,404 156.4,404 157.1,404 157.8,404 158.5,404 159.2,404 159.9,404 160.6,404 161.3,404 162,404 162.7,404 163.4,404 164.1,404 164.8,404 165,404 165.5,404 166.2,404 166.9,404 167.6,404 168.3,404 169,404 169.7,403.8 170.4,404 171.1,404 171.8,404 172.5,404 173.2,403.8 173.9,403.5 174.6,404 175.3,404 176,403.5 176.7,403.5 177.4,403.8 178,403.6 178.1,403.4 178.8,403.4 179.5,403.3 180.2,403.4 180.9,403.6 181.6,403.2 182.3,403.4 183,403.1 183,403 183.7,402.3 184.4,400.9 185,400.7 185.1,400.3 185.8,400.7 186.5,400.1 187.2,400.1 187.9,399.9 188.6,399.9 189,399.4 189.3,399.7 190,399.8 190.7,399.7 191.4,399.6 192.1,399.7 192.8,399.9 193.5,399.9 194,400.2 194.2,400.1 194.9,400.2 195.6,400.2 196.3,400.1 197,399.6 197.7,400.1 198.4,400.1 199,400.1 199.1,400.3 199.8,400.4 200.5,400.2 201.2,400.3 201.9,401.1 202.6,401 203.3,401.4 204,401.6 204.7,401 205,401.3 205.4,401.5 206.1,401.7 206.8,402 207.5,402.2 208.2,402.3 208.9,402.5 209,402.5 209.6,402.1 210.3,402.4 211,402.2 211.7,402.4 212.4,402.3 213.1,402.5 213.8,402.5 214.5,402.4 215,402.3 215.2,402.4 215.9,402.5 216.6,402.5 217.3,402.7 218,402.8 218.7,403.1 219.4,403.2 220,403.3 220.1,403.4 220.8,402.9 221.5,403.4 222.2,402.9 222.9,402.9 223.6,403 224.3,402.8 225,403 225.7,402.7 226,402.8 226.4,402.4 227.1,402.1 227.8,402.3 228.5,401.6 229.2,400.9 229.9,400.9 230.6,400.1 231,400.3 231.3,401 232,400.7 232.7,401.7 233.4,402.2 234.1,402.2 234.8,403.2 235.5,403.8 236,404 236.2,404 236.9,403.9 237.6,404 238.3,403.7 239,403.7 239.7,403.5 240.4,403.6 241.1,403.1 241.8,403.5 242.5,403.1 243.2,402.9 243.9,403.2 244.6,403.4 245.3,403.2 246,402.7 246.7,402.9 247.4,402.6 248.1,402.6 248.8,402.5 249.5,401.9 250,402.4 250.2,402.4 250.9,402 251.6,402.1 252.3,401.8 253,401.7 253.7,401.8 254.4,402.2 255.1,402.3 255.8,401.8 256.5,402 257.2,401.6 257.9,401.1 258.6,401.6 259.3,401.6 260,401.3 260.7,401.4 261.4,401.4 262.1,401 262.8,400.8 263.5,401 264.2,401 264.9,400.9 265.6,401.1 266.3,401.2 267,400.6 267.7,400.8 268.4,400.8 269.1,400.7 269.8,400.7 270,400.4 270.5,400.3 271.2,400.5 271.9,400.8 272.6,400.4 273.3,400 274,400.2 274.7,400.3 275.4,400 276.1,399.7 276.8,400.2 277.5,399.4 278.2,399.8 278.9,399.6 279.6,399.2 280,399.5 280.3,399.2 281,398.2 281.7,399.6 282.4,399.6 283.1,399.6 283.8,398.7 284.5,399.6 285.2,398.7 285.9,398.9 286.6,398.6 286.8,398.1 287.3,397.9 288,399.1 288.7,398.2 289.4,397.3 290.1,397.9 290.8,398.1 290.9,397 291.5,397.5 292.2,398.3 292.9,395.9 293.6,396.2 294.3,397.3 294.3,396.3 295,392.7 295.3,390.5 295.7,385.4 296.1,381.2 296.4,372.9 297,360.2 297.1,356.2 297.7,356 297.8,361.7 298.4,361.4 298.5,365.9 299.2,360.5 299.9,360.8 300.5,358.6 300.6,360 301.3,359.6 302,364.5 302.7,362.2 302.8,363.5 303.4,358.1 303.9,357.5 304.1,348.1 304.8,339.9 305.5,330.6 305.9,317.5 306.2,319.3 306.9,325 307.6,325.5 307.6,333.4 308.3,321.6 309,317 309.7,303.4 310.4,300.7 310.8,302.5 311.1,308.5 311.8,307.6 312.2,312.8 312.5,319.5 313.2,328.4 313.9,348.1 313.9,344.3 314.6,345.2 315.3,340.1 315.3,341.1 316,345.5 316.7,345.5 317.4,350.9 318.1,348.6 318.2,355.9 318.8,354.4 319.5,355.5 320.2,357 320.9,356.3 321.5,357.9 321.6,355.2 322.3,353.6 323,356.8 323.1,354.4 323.7,355.5 324.4,353.8 325.1,350.4 325.8,350.1 326.4,349.6 326.5,352 327.2,347.4 327.9,344.9 328.6,336.1 329.3,331.4 329.3,339.8 330,331.2 330.7,332.7 331.4,331.2 331.8,324.8 332.1,329.7 332.8,331.3 333.5,331.7 334.2,341.9 334.2,342.4 334.9,340.3 335.6,342.3 336.3,343.1 336.6,343.6 337,338.4 337.7,333.9 338.4,331.4 339.1,335 339.4,333.9 339.8,327.6 340.5,321.9 341.2,321.3 341.8,326.8 341.9,314.2 342.6,311 343.3,295 343.5,300.7 344,303.4 344.7,305.8 345.2,310.7 345.4,313.9 346.1,307.4 346.8,308.1 347.3,310.1 347.5,305.8 348.2,304.7 348.9,312.3 349.3,319.2 349.6,312.9 350.3,316.1 351,316.2 351.4,314.3 351.7,314.8 352.4,317.7 353.1,326.2 353.8,319.7 354.1,323.8 354.5,334.6 355.2,314.9 355.5,328.7 355.9,324.3 356.6,337.6 357.3,337.9 357.5,341.1 358,342.4 358.7,333.3 359.4,339.5 360.1,336 360.2,338.9 360.8,338 361.5,338.8 362.2,346.5 362.3,343.9 362.9,343.6 363.6,345.4 364.3,344.8 364.3,339.1 365,339.1 365.7,338.9 366.4,346 366.4,347.5 367.1,346.1 367.8,337 368.5,338.2 369.1,339.6 369.2,334.3 369.9,339.2 370.6,335.1 371.3,335.3 371.8,338.8 372,334.9 372.7,341.8 373.4,338.8 374.1,346.6 374.7,344.8 374.8,348.6 375.5,352.4 376.2,354.1 376.4,354.9 376.9,359 377.6,353.8 378.3,353.2 378.8,347.9 379,347.8 379.7,350.9 380.4,356.9 381.1,362.7 381.1,354.1 381.8,361.4 382.5,363.5 382.9,363.9 383.2,371.5 383.9,362.9 384.6,362.5 385.3,365.2 386,364.2 386.4,365 386.7,359.8 387.4,365.8 388.1,364 388.8,361.6 389.3,359.8 389.5,361.2 390.2,360.8 390.9,362 391.6,357.9 392.2,358.3 392.3,354.5 393,353.7 393.7,349.3 394.4,353.2 394.6,354.8 395.1,360.9 395.8,358.9 396.5,357.7 397.2,359.3 397.5,362.4 397.9,358.9 398.6,361.3 399.3,359.5 400,357.1 400.4,359.7 400.7,363.5 401.4,357.8 402.1,362.6 402.8,366.5 403.5,364.4 404,363.9 404.2,357.7 404.9,359.7 405.6,358.4 406.3,350.8 407,351.9 407.5,345.1 407.7,352.5 408.4,351.7 409.1,360.7 409.2,366.2 409.8,362.6 410.5,361.3 411.2,362.4 411.6,361.8 411.9,359.7 412.6,360.4 413.3,365.4 414,365.5 414.5,366.3 414.7,366.7 415.4,365.4 416.1,365 416.8,364.1 416.8,366.5 417.5,366.1 418.2,363 418.9,362.4 419.6,355.1 420.3,361.7 420.4,351.9 421,359.2 421.7,361.8 422.4,365.6 422.7,370.9 423.1,364.3 423.8,367 424.5,363.7 424.5,350.8 425.2,369.9 425.9,359.6 426.2,352.2 426.6,367.1 427.3,371.7 428,368.1 428.5,368.1 428.7,363.8 429.4,373.1 429.6,358.7 430.1,368.3 430.6,363.6 430.8,365 431.5,363 432,359.9 432.2,357.3 432.9,362.3 433.6,360.8 434.3,357.4 434.4,360.3 435,361.1 435.7,362.6 436.4,359.3 436.5,357 437.1,360.7 437.8,358.9 438,363.6 438.5,360.7 439.2,358.3 439.9,360.7 440.5,364.1 440.6,362.3 441.3,360.5 442,362.1 442.7,359.8 443.4,358.6 444,361.4 444.1,359.5 444.8,365.6 445.5,366 445.5,369.4 446.2,367.4 446.9,370.1 447,366.7 447.6,370.9 448.3,373.2 449,369.3 449.7,369.2 450.4,368.2 451.1,367.6 451.8,366.7 452,366.1 452.5,368.3 453.2,368.2 453.9,367.5 454.6,368.1 455.3,368.2 456,366.7 456.5,369.5 456.7,369.1 457.4,372.9 458,373.1 458.1,373.7 458.8,368.7 459.5,373.1 460.2,371.4 460.9,372.3 461,371.5 461.6,371 462.3,370.7 463,374 463.7,369.7 464.4,371.8 465,372.2 465.1,373.9 465.8,374 466.5,374 467.2,373.1 467.9,371.4 468,374.2 468.6,373.9 469.3,373.6 470,372.8 470.7,371.3 471,369.6 471.4,370.8 472.1,369.7 472.8,368.1 473,368.5 473.5,370 474.2,368.1 474.9,368.4 475.6,366.7 476.3,369.3 476.5,370.1 477,369.9 477.7,367.6 478.4,365.7 479,368.9 479.1,368.7 479.8,364.2 480.5,365.9 481,362.8 481.2,364.3 481.9,357.2 482.5,359 482.6,356.8 483.3,360.5 484,359.4 484.7,362 485.4,358.3 486.1,358 486.8,360.1 487,360.1 487.5,359.7 488.2,358.5 488.9,355.4 489.5,356.9 489.6,357.4 490.3,355.4 491,355.2 491,348.9 491.7,352.7 492.4,346.1 493.1,347.5 493.5,347.2 493.8,344.1 494.5,336.3 495,325.5 495.2,325.5 495.8,315.6 495.9,321.5 496.6,329.9 497,322.5 497.3,325.4 498,312.5 498.1,316.2 498.7,318.3 499.4,322 499.9,321.3 500.1,318.7 500.8,317.7 501.5,320.9 501.6,318.3 502.2,322.4 502.9,321.1 503.4,320.3 503.6,315 504.3,324.4 505,323.9 505.1,316.2 505.7,328.9 506.4,330.1 506.9,323.1 507.1,326.1 507.8,315.3 508.5,321.9 508.7,321 509.2,315 509.8,309.4 509.9,311 510.6,320.6 510.6,316.5 511.3,323.6 512,321.4 512.2,323.4 512.7,320.3 513.4,326 513.9,327.8 514.1,329.2 514.5,324.3 514.5,404" fill="#2B8CF0"/>
<rect x="133.6" y="454.6" width="6.4" height="6.4" fill="#2B8CF0" stroke="#1f6ad0" stroke-width="0.6"/>
<text x="142.5" y="461.8" font-family="Liberation Sans" fill="#404040" stroke="#404040" stroke-width="0.15" font-size="9.6" textLength="70.5" lengthAdjust="spacingAndGlyphs">Use to pay fees</text>
<rect x="232.2" y="454.9" width="5.9" height="6" fill="#22EDC8" stroke="#1fd8b0" stroke-width="0.5"/>
<text x="241.3" y="461.8" font-family="Liberation Sans" fill="#404040" stroke="#404040" stroke-width="0.15" font-size="9.6" textLength="90.7" lengthAdjust="spacingAndGlyphs">Hold dollar-amount</text>
<rect x="352.2" y="455.2" width="5.6" height="5.6" fill="#333" stroke="#000" stroke-width="0.8"/>
<text x="360.8" y="461.8" font-family="Liberation Sans" fill="#404040" stroke="#404040" stroke-width="0.15" font-size="9.6" textLength="105.4" lengthAdjust="spacingAndGlyphs">Exclusively hold tokens</text>
<text x="32.4" y="487.6" font-family="Liberation Serif" fill="#111" stroke="#111" stroke-width="0.12" word-spacing="1.5" font-size="11.5" textLength="25.3" lengthAdjust="spacingAndGlyphs">Note:</text>
<text x="66.3" y="487.6" font-family="Liberation Serif" fill="#111" stroke="#111" stroke-width="0.12" word-spacing="1.5" font-size="11.5" textLength="426.4" lengthAdjust="spacingAndGlyphs">The aggregate market capitalization of the crypto exchange tokens listed in Table <tspan fill="#2a2ad0" stroke="#2a2ad0">1</tspan>.</text>
<text x="501.9" y="487.6" font-family="Liberation Serif" fill="#111" stroke="#111" stroke-width="0.12" word-spacing="1.5" font-size="11.5" textLength="64.8" lengthAdjust="spacingAndGlyphs">The colors in</text>
<text x="32.5" y="501.2" font-family="Liberation Serif" fill="#111" stroke="#111" stroke-width="0.12" word-spacing="1.5" font-size="11.5" textLength="404.1" lengthAdjust="spacingAndGlyphs">panel (b) indicate how owners of tokens can qualify for discounts on trading fees.</text>
<text x="442.4" y="501.2" font-family="Liberation Serif" fill="#111" stroke="#111" stroke-width="0.12" word-spacing="1.5" font-size="11.5" textLength="32.8" lengthAdjust="spacingAndGlyphs">Source:</text>
<text x="483.6" y="501.2" font-family="Liberation Serif" fill="#111" stroke="#111" stroke-width="0.12" word-spacing="1.5" font-size="11.5" textLength="75.6" lengthAdjust="spacingAndGlyphs">Coingecko.com.</text>
</svg>
</body></html>
